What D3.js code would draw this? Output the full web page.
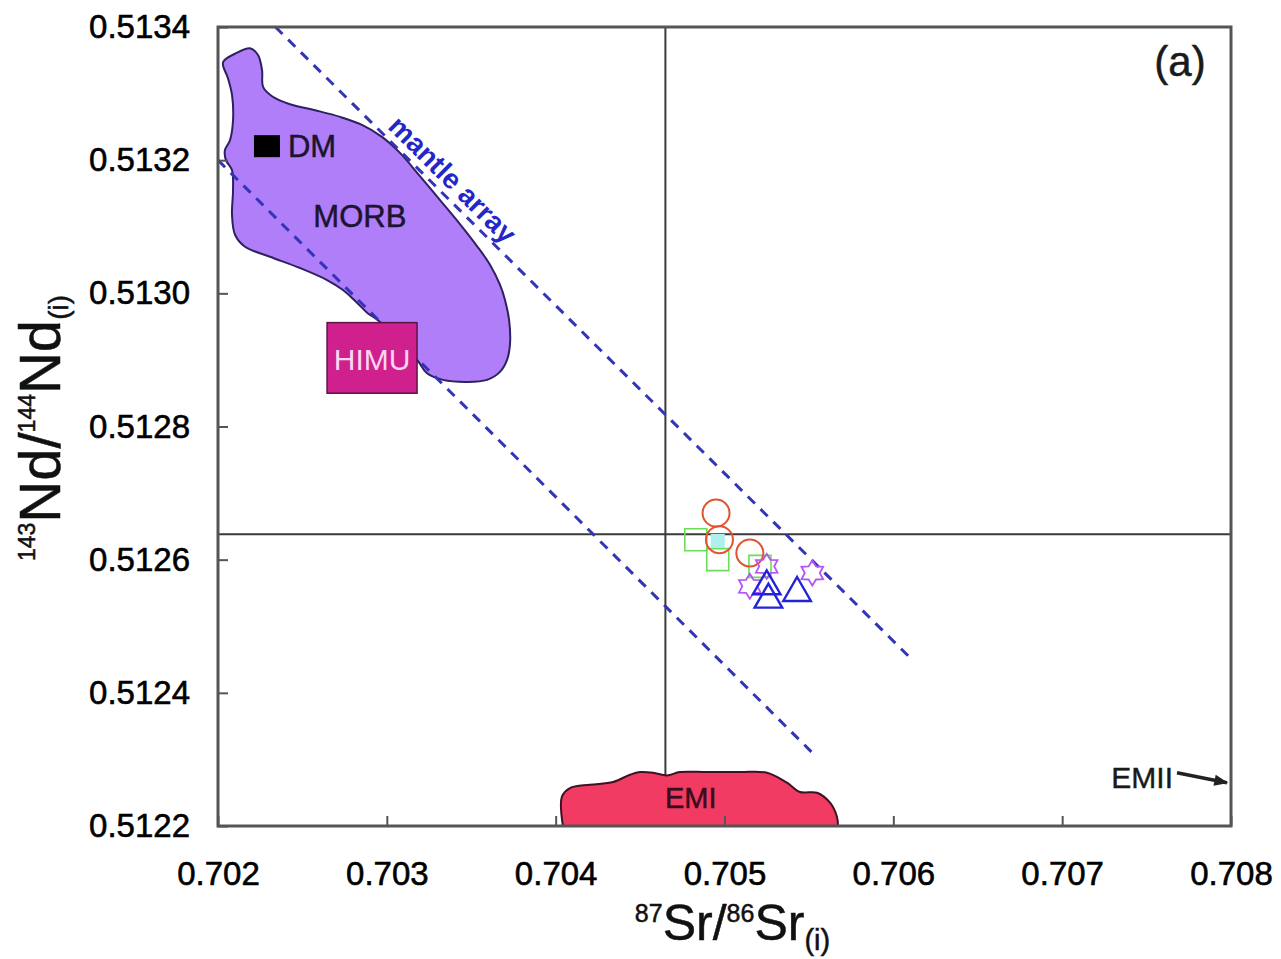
<!DOCTYPE html>
<html>
<head>
<meta charset="utf-8">
<script src="https://cdn.jsdelivr.net/npm/d3@7"></script>
<style>
  html, body { margin: 0; padding: 0; background: #fff; }
  svg { display: block; font-family: "Liberation Sans", Arial, sans-serif; }
</style>
</head>
<body>
<svg id="chart" width="1281" height="959"></svg>
<script>
// axis ticks
const srTicks = [0.702, 0.703, 0.704, 0.705, 0.706, 0.707, 0.708];
const ndTicks = [0.5122, 0.5124, 0.5126, 0.5128, 0.5130, 0.5132, 0.5134];

// reference lines (bulk earth / CHUR)
const bulkSr = 0.70465;
const churNd = 0.512638;

// mantle array dashed lines: [start, end]
const mantleUpper = [[0.70234, 0.5134], [0.70611, 0.51245]];
const mantleLower = [[0.70200, 0.5132], [0.70552, 0.51231]];

// fields
const morbOutline = [
  [0.70203, 0.513347], [0.70211, 0.513361], [0.70219, 0.513368], [0.702237, 0.513358],
  [0.702261, 0.513335], [0.702267, 0.51331], [0.70232, 0.513296], [0.702426, 0.513284],
  [0.702575, 0.513275], [0.702723, 0.513265], [0.702853, 0.513253], [0.702971, 0.513235],
  [0.703078, 0.513211], [0.703196, 0.513176], [0.703315, 0.51314], [0.703433, 0.513104],
  [0.703534, 0.513071], [0.703611, 0.513043], [0.70367, 0.513013], [0.7037, 0.51299],
  [0.703724, 0.51296], [0.70373, 0.512926], [0.703712, 0.5129], [0.70367, 0.512882],
  [0.703593, 0.51287], [0.703475, 0.512867], [0.703333, 0.51287], [0.703238, 0.51288],
  [0.703179, 0.5129], [0.70296, 0.512957], [0.702883, 0.512971], [0.702823, 0.512986],
  [0.70274, 0.513005], [0.702646, 0.51302], [0.702486, 0.513038], [0.702308, 0.513055],
  [0.70216, 0.51307], [0.702101, 0.513088], [0.702083, 0.513118], [0.702089, 0.513155],
  [0.702083, 0.513185], [0.702047, 0.5132], [0.702041, 0.513215], [0.702071, 0.51323],
  [0.702089, 0.51326], [0.702083, 0.513298], [0.702059, 0.513323]
];
const emiOutline = [
  [0.704043, 0.5122], [0.704037, 0.512244], [0.704085, 0.512257], [0.704203, 0.512262],
  [0.70434, 0.512266], [0.70444, 0.512277], [0.7045, 0.512281], [0.704577, 0.51228],
  [0.704659, 0.512276], [0.704736, 0.512281], [0.704896, 0.512281], [0.705092, 0.512281],
  [0.705252, 0.51228], [0.70537, 0.512265], [0.705447, 0.512251], [0.705548, 0.51225],
  [0.705625, 0.512235], [0.705666, 0.512214], [0.705672, 0.5122]
];
const himuBox = [[0.702646, 0.512956], [0.703179, 0.51285]];
const dmPoint = [0.70229, 0.513221];
const emiiArrow = [[0.70768, 0.51228], [0.707976, 0.512265]];

// samples
const circleSr = [0.70495, 0.70497, 0.70515];
const circleNd = [0.51267, 0.51263, 0.51261];
const squareSr = [0.70483, 0.70496, 0.70521];
const squareNd = [0.51263, 0.51260, 0.51259];
const cyanSr = [0.70496];
const cyanNd = [0.512628];
const starSr = [0.70525, 0.70515, 0.70552];
const starNd = [0.51259, 0.51256, 0.51258];
const triSr = [0.70525, 0.70526, 0.70543];
const triNd = [0.51256, 0.51254, 0.51255];

const svg = d3.select('#chart');
const margin = { top: 27, right: 50, bottom: 133, left: 218 };
const width = 1281 - margin.left - margin.right;
const height = 959 - margin.top - margin.bottom;

const x = d3.scaleLinear().domain([0.702, 0.708]).range([0, width]);
const y = d3.scaleLinear().domain([0.5122, 0.5134]).range([height, 0]);

svg.append('rect').attr('width', 1281).attr('height', 959).attr('fill', '#fff');

const defs = svg.append('defs');
defs.append('clipPath').attr('id', 'plot-clip')
  .append('rect').attr('width', width).attr('height', height);
defs.append('marker')
  .attr('id', 'arrow')
  .attr('viewBox', '0 0 10 10')
  .attr('refX', 9).attr('refY', 5)
  .attr('markerWidth', 4.5).attr('markerHeight', 4)
  .attr('orient', 'auto')
  .append('path').attr('d', 'M0,1L10,5L0,9Z').attr('fill', '#222');

const g = svg.append('g').attr('transform', `translate(${margin.left},${margin.top})`);
const plot = g.append('g').attr('clip-path', 'url(#plot-clip)');

const line = d3.line().x(d => x(d[0])).y(d => y(d[1]));

// MORB field
plot.append('path')
  .attr('d', d3.line().x(d => x(d[0])).y(d => y(d[1])).curve(d3.curveCatmullRomClosed.alpha(0.5))(morbOutline))
  .attr('fill', '#b07ef8')
  .attr('stroke', '#2e2160')
  .attr('stroke-width', 2);

// bulk earth / CHUR lines
plot.append('line')
  .attr('x1', x(bulkSr)).attr('x2', x(bulkSr))
  .attr('y1', 0).attr('y2', height)
  .attr('stroke', '#3a3a3a').attr('stroke-width', 2);
plot.append('line')
  .attr('x1', 0).attr('x2', width)
  .attr('y1', y(churNd)).attr('y2', y(churNd))
  .attr('stroke', '#3a3a3a').attr('stroke-width', 2);

// EMI field
plot.append('path')
  .attr('d', d3.line().x(d => x(d[0])).y(d => y(d[1])).curve(d3.curveCatmullRom.alpha(0.5))(emiOutline) + 'Z')
  .attr('fill', '#f23b63')
  .attr('stroke', '#3c1224')
  .attr('stroke-width', 2);

// mantle array
[mantleUpper, mantleLower].forEach(seg => {
  plot.append('path')
    .attr('d', line(seg))
    .attr('fill', 'none')
    .attr('stroke', '#3434b8')
    .attr('stroke-width', 3)
    .attr('stroke-dasharray', '10,8');
});

// mantle array label along the upper line
{
  const [p0, p1] = mantleUpper.map(d => [x(d[0]), y(d[1])]);
  const ang = Math.atan2(p1[1] - p0[1], p1[0] - p0[0]);
  const t = (x(0.70332) - p0[0]) / (p1[0] - p0[0]);
  const px = p0[0] + t * (p1[0] - p0[0]);
  const py = p0[1] + t * (p1[1] - p0[1]);
  const off = 7;
  g.append('text')
    .attr('transform', `translate(${px + off * Math.sin(ang)},${py - off * Math.cos(ang)}) rotate(${ang * 180 / Math.PI})`)
    .attr('text-anchor', 'middle')
    .attr('font-size', 28)
    .attr('font-weight', 'bold')
    .attr('fill', '#2626c8')
    .text('mantle array');
}

// HIMU box
g.append('rect')
  .attr('x', x(himuBox[0][0]))
  .attr('y', y(himuBox[0][1]))
  .attr('width', x(himuBox[1][0]) - x(himuBox[0][0]))
  .attr('height', y(himuBox[1][1]) - y(himuBox[0][1]))
  .attr('fill', '#d0208e')
  .attr('stroke', '#5a1444')
  .attr('stroke-width', 1.5);
g.append('text')
  .attr('x', (x(himuBox[0][0]) + x(himuBox[1][0])) / 2)
  .attr('y', y(himuBox[1][1]) - 23)
  .attr('text-anchor', 'middle')
  .attr('font-size', 30)
  .attr('fill', '#fbd6f2')
  .text('HIMU');

// DM
g.append('rect')
  .attr('x', x(dmPoint[0]) - 13)
  .attr('y', y(dmPoint[1]) - 11)
  .attr('width', 26).attr('height', 22)
  .attr('fill', '#000');
g.append('text')
  .attr('x', x(dmPoint[0]) + 21)
  .attr('y', y(dmPoint[1]) + 11)
  .attr('font-size', 31)
  .attr('fill', '#1b1530')
  .attr('stroke', '#1b1530').attr('stroke-width', 0.5)
  .text('DM');

// MORB / EMI labels
g.append('text')
  .attr('x', x(0.70284)).attr('y', y(0.5131))
  .attr('text-anchor', 'middle')
  .attr('font-size', 31)
  .attr('fill', '#1b1530')
  .attr('stroke', '#1b1530').attr('stroke-width', 0.5)
  .text('MORB');
g.append('text')
  .attr('x', x(0.70480)).attr('y', y(0.512227))
  .attr('text-anchor', 'middle')
  .attr('font-size', 29)
  .attr('fill', '#3a0c1c')
  .attr('stroke', '#3a0c1c').attr('stroke-width', 0.5)
  .text('EMI');

// EMII arrow
g.append('text')
  .attr('x', x(emiiArrow[0][0]) - 4)
  .attr('y', y(0.512272) + 10)
  .attr('text-anchor', 'end')
  .attr('font-size', 30)
  .attr('fill', '#1a1a1a')
  .attr('stroke', '#1a1a1a').attr('stroke-width', 0.4)
  .text('EMII');
g.append('path')
  .attr('d', line(emiiArrow))
  .attr('stroke', '#222')
  .attr('stroke-width', 3.5)
  .attr('marker-end', 'url(#arrow)');

// samples
const pts = (xs, ys) => xs.map((v, i) => [v, ys[i]]);

g.append('g').selectAll('path')
  .data(pts(squareSr, squareNd))
  .join('path')
  .attr('transform', d => `translate(${x(d[0])},${y(d[1])})`)
  .attr('d', d3.symbol(d3.symbolSquare, 484)())
  .attr('fill', 'none')
  .attr('stroke', '#6ddc58')
  .attr('stroke-width', 1.6);

g.append('g').selectAll('path')
  .data(pts(cyanSr, cyanNd))
  .join('path')
  .attr('transform', d => `translate(${x(d[0])},${y(d[1])})`)
  .attr('d', d3.symbol(d3.symbolSquare, 196)())
  .attr('fill', '#aef0ee')
  .attr('stroke', 'none');

g.append('g').selectAll('circle')
  .data(pts(circleSr, circleNd))
  .join('circle')
  .attr('cx', d => x(d[0]))
  .attr('cy', d => y(d[1]))
  .attr('r', 13.5)
  .attr('fill', 'none')
  .attr('stroke', '#e0542e')
  .attr('stroke-width', 2);

const starPath = (ro, ri) => {
  const p = d3.path();
  for (let i = 0; i < 12; i++) {
    const r = i % 2 ? ri : ro;
    const a = -Math.PI / 2 + i * Math.PI / 6;
    if (i === 0) p.moveTo(r * Math.cos(a), r * Math.sin(a));
    else p.lineTo(r * Math.cos(a), r * Math.sin(a));
  }
  p.closePath();
  return p.toString();
};

g.append('g').selectAll('path')
  .data(pts(starSr, starNd))
  .join('path')
  .attr('transform', d => `translate(${x(d[0])},${y(d[1])})`)
  .attr('d', starPath(12.5, 7.5))
  .attr('fill', 'none')
  .attr('stroke', '#b455f5')
  .attr('stroke-width', 1.8);

g.append('g').selectAll('path')
  .data(pts(triSr, triNd))
  .join('path')
  .attr('transform', d => `translate(${x(d[0])},${y(d[1])})`)
  .attr('d', d3.symbol(d3.symbolTriangle, 330)())
  .attr('fill', 'none')
  .attr('stroke', '#2323d8')
  .attr('stroke-width', 2.4);

// frame
g.append('rect')
  .attr('width', width).attr('height', height)
  .attr('fill', 'none')
  .attr('stroke', '#555')
  .attr('stroke-width', 3);

// axes
const xAxis = g.append('g')
  .attr('transform', `translate(0,${height})`)
  .call(d3.axisBottom(x).tickValues(srTicks).tickFormat(d3.format('.3f'))
    .tickSizeInner(-10).tickSizeOuter(0).tickPadding(36));
const yAxis = g.append('g')
  .call(d3.axisLeft(y).tickValues(ndTicks).tickFormat(d3.format('.4f'))
    .tickSizeInner(-10).tickSizeOuter(0).tickPadding(28));
[xAxis, yAxis].forEach(a => {
  a.select('.domain').remove();
  a.selectAll('line').attr('stroke', '#555').attr('stroke-width', 2);
  a.selectAll('text')
    .attr('font-size', 33)
    .attr('font-family', '"Liberation Sans", Arial, sans-serif')
    .attr('fill', '#000')
    .attr('stroke', '#000')
    .attr('stroke-width', 0.6);
});

// axis titles
const xt = svg.append('text')
  .attr('x', margin.left + width / 2 + 8)
  .attr('y', 940)
  .attr('text-anchor', 'middle')
  .attr('fill', '#111')
  .attr('stroke', '#111').attr('stroke-width', 0.5);
xt.append('tspan').attr('font-size', 25).attr('dy', -18).text('87');
xt.append('tspan').attr('font-size', 50).attr('dy', 18).text('Sr/');
xt.append('tspan').attr('font-size', 25).attr('dy', -18).text('86');
xt.append('tspan').attr('font-size', 50).attr('dy', 18).text('Sr');
xt.append('tspan').attr('font-size', 29).attr('dy', 10).text('(i)');

const yt = svg.append('text')
  .attr('transform', 'translate(60,428) rotate(-90)')
  .attr('text-anchor', 'middle')
  .attr('fill', '#111')
  .attr('stroke', '#111').attr('stroke-width', 0.5);
yt.append('tspan').attr('font-size', 23).attr('dy', -25).text('143');
yt.append('tspan').attr('font-size', 58).attr('dy', 25).text('Nd/');
yt.append('tspan').attr('font-size', 23).attr('dy', -25).text('144');
yt.append('tspan').attr('font-size', 58).attr('dy', 25).text('Nd');
yt.append('tspan').attr('font-size', 28).attr('dy', 8).text('(i)');

// panel label
g.append('text')
  .attr('x', width - 51)
  .attr('y', 49)
  .attr('text-anchor', 'middle')
  .attr('font-size', 42)
  .attr('fill', '#1a1a1a')
  .attr('stroke', '#1a1a1a').attr('stroke-width', 0.5)
  .text('(a)');
</script>
</body>
</html>
